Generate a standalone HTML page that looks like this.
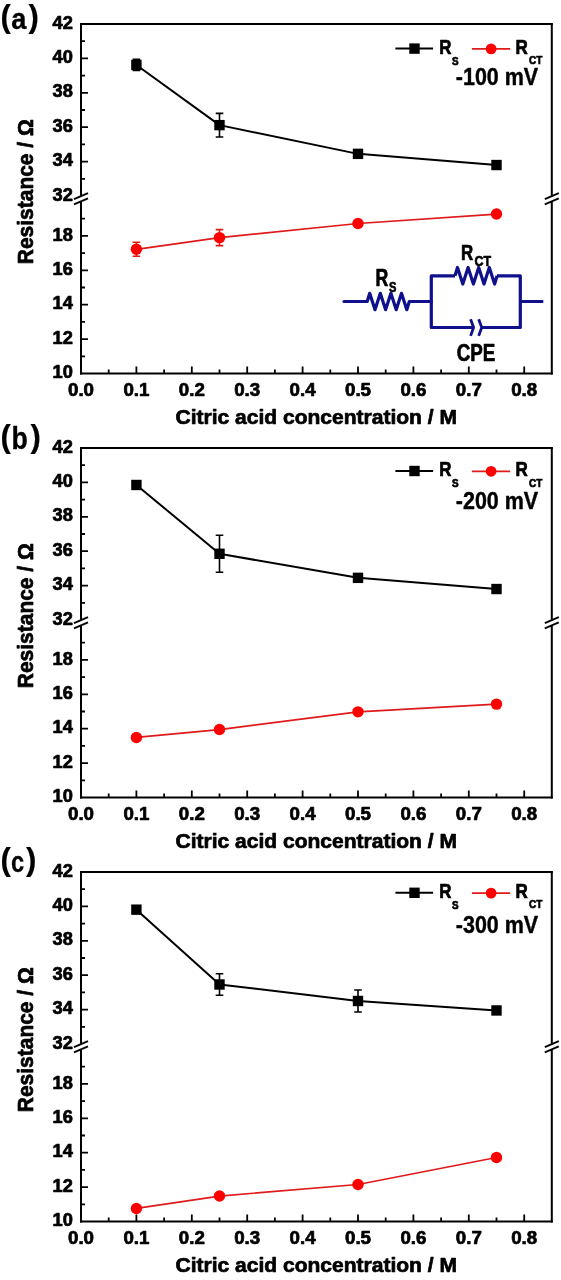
<!DOCTYPE html>
<html><head><meta charset="utf-8"><style>
html,body{margin:0;padding:0;background:#fff;}
svg{display:block;will-change:transform;}
</style></head><body>
<svg width="561" height="1280" viewBox="0 0 561 1280" font-family="Liberation Sans, sans-serif" font-weight="bold" stroke-linejoin="round">
<rect width="561" height="1280" fill="#fff"/>
<g transform="translate(0,0)">
<path d="M81.0 23.0 V195.70 M81.0 201.80 V374.5" stroke="#000" stroke-width="2.0" fill="none"/>
<path d="M551.8 23.0 V195.70 M551.8 201.80 V374.5" stroke="#000" stroke-width="2.0" fill="none"/>
<path d="M80.0 24.0 H552.8 M80.0 373.5 H552.8" stroke="#000" stroke-width="2.0" fill="none"/>
<path d="M74.00 199.20 L88.00 193.20" stroke="#000" stroke-width="1.9" fill="none"/>
<path d="M74.00 204.30 L88.00 198.30" stroke="#000" stroke-width="1.9" fill="none"/>
<path d="M544.80 199.20 L558.80 193.20" stroke="#000" stroke-width="1.9" fill="none"/>
<path d="M544.80 204.30 L558.80 198.30" stroke="#000" stroke-width="1.9" fill="none"/>
<path d="M81.0 178.80 h4 M81.0 161.60 h7 M81.0 144.40 h4 M81.0 127.20 h7 M81.0 110.00 h4 M81.0 92.80 h7 M81.0 75.60 h4 M81.0 58.40 h7 M81.0 41.20 h4 M81.0 356.30 h4 M81.0 339.10 h7 M81.0 321.90 h4 M81.0 304.70 h7 M81.0 287.50 h4 M81.0 270.30 h7 M81.0 253.10 h4 M81.0 235.90 h7 M81.0 218.70 h4 M108.70 373.5 v-4 M136.40 373.5 v-7 M164.10 373.5 v-4 M191.80 373.5 v-7 M219.50 373.5 v-4 M247.20 373.5 v-7 M274.90 373.5 v-4 M302.60 373.5 v-7 M330.30 373.5 v-4 M358.00 373.5 v-7 M385.70 373.5 v-4 M413.40 373.5 v-7 M441.10 373.5 v-4 M468.80 373.5 v-7 M496.50 373.5 v-4 M524.20 373.5 v-7 " stroke="#000" stroke-width="1.8" fill="none"/>
<text x="72.80" y="28.60" font-size="18" text-anchor="end" fill="#000" stroke="#000" stroke-width="0.7" textLength="20.3" lengthAdjust="spacingAndGlyphs" >42</text>
<text x="72.80" y="63.00" font-size="18" text-anchor="end" fill="#000" stroke="#000" stroke-width="0.7" textLength="20.3" lengthAdjust="spacingAndGlyphs" >40</text>
<text x="72.80" y="97.40" font-size="18" text-anchor="end" fill="#000" stroke="#000" stroke-width="0.7" textLength="20.3" lengthAdjust="spacingAndGlyphs" >38</text>
<text x="72.80" y="131.80" font-size="18" text-anchor="end" fill="#000" stroke="#000" stroke-width="0.7" textLength="20.3" lengthAdjust="spacingAndGlyphs" >36</text>
<text x="72.80" y="166.20" font-size="18" text-anchor="end" fill="#000" stroke="#000" stroke-width="0.7" textLength="20.3" lengthAdjust="spacingAndGlyphs" >34</text>
<text x="72.80" y="200.60" font-size="18" text-anchor="end" fill="#000" stroke="#000" stroke-width="0.7" textLength="20.3" lengthAdjust="spacingAndGlyphs" >32</text>
<text x="72.80" y="240.50" font-size="18" text-anchor="end" fill="#000" stroke="#000" stroke-width="0.7" textLength="20.3" lengthAdjust="spacingAndGlyphs" >18</text>
<text x="72.80" y="274.90" font-size="18" text-anchor="end" fill="#000" stroke="#000" stroke-width="0.7" textLength="20.3" lengthAdjust="spacingAndGlyphs" >16</text>
<text x="72.80" y="309.30" font-size="18" text-anchor="end" fill="#000" stroke="#000" stroke-width="0.7" textLength="20.3" lengthAdjust="spacingAndGlyphs" >14</text>
<text x="72.80" y="343.70" font-size="18" text-anchor="end" fill="#000" stroke="#000" stroke-width="0.7" textLength="20.3" lengthAdjust="spacingAndGlyphs" >12</text>
<text x="72.80" y="378.10" font-size="18" text-anchor="end" fill="#000" stroke="#000" stroke-width="0.7" textLength="20.3" lengthAdjust="spacingAndGlyphs" >10</text>
<text x="81.00" y="396.00" font-size="18" text-anchor="middle" fill="#000" stroke="#000" stroke-width="0.7" textLength="26" lengthAdjust="spacingAndGlyphs" >0.0</text>
<text x="136.40" y="396.00" font-size="18" text-anchor="middle" fill="#000" stroke="#000" stroke-width="0.7" textLength="26" lengthAdjust="spacingAndGlyphs" >0.1</text>
<text x="191.80" y="396.00" font-size="18" text-anchor="middle" fill="#000" stroke="#000" stroke-width="0.7" textLength="26" lengthAdjust="spacingAndGlyphs" >0.2</text>
<text x="247.20" y="396.00" font-size="18" text-anchor="middle" fill="#000" stroke="#000" stroke-width="0.7" textLength="26" lengthAdjust="spacingAndGlyphs" >0.3</text>
<text x="302.60" y="396.00" font-size="18" text-anchor="middle" fill="#000" stroke="#000" stroke-width="0.7" textLength="26" lengthAdjust="spacingAndGlyphs" >0.4</text>
<text x="358.00" y="396.00" font-size="18" text-anchor="middle" fill="#000" stroke="#000" stroke-width="0.7" textLength="26" lengthAdjust="spacingAndGlyphs" >0.5</text>
<text x="413.40" y="396.00" font-size="18" text-anchor="middle" fill="#000" stroke="#000" stroke-width="0.7" textLength="26" lengthAdjust="spacingAndGlyphs" >0.6</text>
<text x="468.80" y="396.00" font-size="18" text-anchor="middle" fill="#000" stroke="#000" stroke-width="0.7" textLength="26" lengthAdjust="spacingAndGlyphs" >0.7</text>
<text x="524.20" y="396.00" font-size="18" text-anchor="middle" fill="#000" stroke="#000" stroke-width="0.7" textLength="26" lengthAdjust="spacingAndGlyphs" >0.8</text>
<text x="175.50" y="423.60" font-size="20.5" text-anchor="start" fill="#000" stroke="#000" stroke-width="0.7" textLength="281.5" lengthAdjust="spacingAndGlyphs" >Citric acid concentration / M</text>
<text transform="translate(33.3,264.2) rotate(-90)" x="0" y="0" font-size="22.5" stroke="#000" stroke-width="0.7" text-anchor="start" textLength="145" lengthAdjust="spacingAndGlyphs">Resistance / Ω</text>
<g transform="translate(0,0.0)">
<text x="0.6" y="27.0" font-size="31" stroke="#000" stroke-width="0.2">(</text>
<text x="11.2" y="29.2" font-size="29.5" stroke="#000" stroke-width="0.3" textLength="15.2" lengthAdjust="spacingAndGlyphs">a</text>
<text x="28.6" y="27.0" font-size="31" stroke="#000" stroke-width="0.2">)</text>
</g>
<polyline points="136.40,64.94 219.50,125.14 358.00,153.86 496.50,165.04" stroke="#000" stroke-width="2" fill="none"/>
<path d="M136.40 59.34 V70.54 M132.60 59.34 h7.6 M132.60 70.54 h7.6" stroke="#000" stroke-width="1.6" fill="none"/>
<rect x="131.20" y="59.74" width="10.4" height="10.4" fill="#000"/>
<path d="M219.50 113.34 V136.94 M215.70 113.34 h7.6 M215.70 136.94 h7.6" stroke="#000" stroke-width="1.6" fill="none"/>
<rect x="214.30" y="119.94" width="10.4" height="10.4" fill="#000"/>
<rect x="352.80" y="148.66" width="10.4" height="10.4" fill="#000"/>
<rect x="491.30" y="159.84" width="10.4" height="10.4" fill="#000"/>
<polyline points="136.40,249.32 219.50,237.62 358.00,223.52 496.50,214.06" stroke="#e01a1a" stroke-width="1.7" fill="none"/>
<path d="M136.40 242.32 V256.32 M132.60 242.32 h7.6 M132.60 256.32 h7.6" stroke="#e01a1a" stroke-width="1.6" fill="none"/>
<circle cx="136.40" cy="249.32" r="5.7" fill="#ff0000"/>
<path d="M219.50 229.62 V245.62 M215.70 229.62 h7.6 M215.70 245.62 h7.6" stroke="#e01a1a" stroke-width="1.6" fill="none"/>
<circle cx="219.50" cy="237.62" r="5.7" fill="#ff0000"/>
<circle cx="358.00" cy="223.52" r="5.7" fill="#ff0000"/>
<circle cx="496.50" cy="214.06" r="5.7" fill="#ff0000"/>
<g transform="translate(0,0.0)">
<path d="M395.4 48.6 H433.1" stroke="#000" stroke-width="2"/>
<rect x="409.3" y="43.4" width="10.4" height="10.4" fill="#000"/>
<text x="439.30" y="53.70" font-size="19.5" text-anchor="start" fill="#000" stroke="#000" stroke-width="0.7" textLength="12.2" lengthAdjust="spacingAndGlyphs" >R</text>
<text x="452.00" y="64.70" font-size="11.8" text-anchor="start" fill="#000" stroke="#000" stroke-width="0.7" textLength="6.6" lengthAdjust="spacingAndGlyphs" >S</text>
<path d="M471.9 48.9 H510.2" stroke="#e01a1a" stroke-width="1.7"/>
<circle cx="491.1" cy="48.9" r="5.4" fill="#ff0000"/>
<text x="515.60" y="53.80" font-size="19.5" text-anchor="start" fill="#000" stroke="#000" stroke-width="0.7" textLength="12.3" lengthAdjust="spacingAndGlyphs" >R</text>
<text x="529.10" y="64.20" font-size="11.5" text-anchor="start" fill="#000" stroke="#000" stroke-width="0.7" textLength="13.4" lengthAdjust="spacingAndGlyphs" >CT</text>
</g>
<text x="455.80" y="84.60" font-size="23" text-anchor="start" fill="#000" stroke="#000" stroke-width="0.4" textLength="82.4" lengthAdjust="spacingAndGlyphs" >-100 mV</text>
<path d="M344 301.5 H367.2 L369.70 293.30 L375.00 309.70 L380.30 293.30 L385.60 309.70 L390.90 293.30 L396.20 309.70 L401.50 293.30 L406.80 309.70 L409.30 301.50 H431.3" stroke="#10108c" stroke-width="3.2" fill="none" stroke-linejoin="round" stroke-linecap="round"/>
<path d="M455 275.8 H431.3 V327.5 H473.4 M481.5 327.5 H520.3 V275.8 H497 M520.3 301.5 H543.3" stroke="#10108c" stroke-width="3.2" fill="none" stroke-linecap="butt"/>
<path d="M455 275.8 L457.50 267.50 L462.80 284.10 L468.10 267.50 L473.40 284.10 L478.70 267.50 L484.00 284.10 L489.30 267.50 L494.60 284.10 L497.10 275.80 " stroke="#10108c" stroke-width="3.2" fill="none" stroke-linejoin="round"/>
<path d="M470.6 319.2 L473.6 327.5 L470.6 335.9 M478.7 319.2 L481.7 327.5 L478.7 335.9" stroke="#10108c" stroke-width="2.8" fill="none"/>
<text x="375.40" y="285.80" font-size="23" text-anchor="start" fill="#000" stroke="#000" stroke-width="0.7" textLength="12.8" lengthAdjust="spacingAndGlyphs" >R</text>
<text x="389.00" y="291.60" font-size="14.2" text-anchor="start" fill="#000" stroke="#000" stroke-width="0.7" textLength="7.4" lengthAdjust="spacingAndGlyphs" >S</text>
<text x="460.90" y="259.60" font-size="21.5" text-anchor="start" fill="#000" stroke="#000" stroke-width="0.7" textLength="12.2" lengthAdjust="spacingAndGlyphs" >R</text>
<text x="474.60" y="265.60" font-size="15.2" text-anchor="start" fill="#000" stroke="#000" stroke-width="0.7" textLength="16.6" lengthAdjust="spacingAndGlyphs" >CT</text>
<text x="456.80" y="361.40" font-size="23.2" text-anchor="start" fill="#000" stroke="#000" stroke-width="0.7" textLength="38.6" lengthAdjust="spacingAndGlyphs" >CPE</text>
</g>
<g transform="translate(0,424)">
<path d="M81.0 23.0 V195.70 M81.0 201.80 V374.5" stroke="#000" stroke-width="2.0" fill="none"/>
<path d="M551.8 23.0 V195.70 M551.8 201.80 V374.5" stroke="#000" stroke-width="2.0" fill="none"/>
<path d="M80.0 24.0 H552.8 M80.0 373.5 H552.8" stroke="#000" stroke-width="2.0" fill="none"/>
<path d="M74.00 199.20 L88.00 193.20" stroke="#000" stroke-width="1.9" fill="none"/>
<path d="M74.00 204.30 L88.00 198.30" stroke="#000" stroke-width="1.9" fill="none"/>
<path d="M544.80 199.20 L558.80 193.20" stroke="#000" stroke-width="1.9" fill="none"/>
<path d="M544.80 204.30 L558.80 198.30" stroke="#000" stroke-width="1.9" fill="none"/>
<path d="M81.0 178.80 h4 M81.0 161.60 h7 M81.0 144.40 h4 M81.0 127.20 h7 M81.0 110.00 h4 M81.0 92.80 h7 M81.0 75.60 h4 M81.0 58.40 h7 M81.0 41.20 h4 M81.0 356.30 h4 M81.0 339.10 h7 M81.0 321.90 h4 M81.0 304.70 h7 M81.0 287.50 h4 M81.0 270.30 h7 M81.0 253.10 h4 M81.0 235.90 h7 M81.0 218.70 h4 M108.70 373.5 v-4 M136.40 373.5 v-7 M164.10 373.5 v-4 M191.80 373.5 v-7 M219.50 373.5 v-4 M247.20 373.5 v-7 M274.90 373.5 v-4 M302.60 373.5 v-7 M330.30 373.5 v-4 M358.00 373.5 v-7 M385.70 373.5 v-4 M413.40 373.5 v-7 M441.10 373.5 v-4 M468.80 373.5 v-7 M496.50 373.5 v-4 M524.20 373.5 v-7 " stroke="#000" stroke-width="1.8" fill="none"/>
<text x="72.80" y="28.60" font-size="18" text-anchor="end" fill="#000" stroke="#000" stroke-width="0.7" textLength="20.3" lengthAdjust="spacingAndGlyphs" >42</text>
<text x="72.80" y="63.00" font-size="18" text-anchor="end" fill="#000" stroke="#000" stroke-width="0.7" textLength="20.3" lengthAdjust="spacingAndGlyphs" >40</text>
<text x="72.80" y="97.40" font-size="18" text-anchor="end" fill="#000" stroke="#000" stroke-width="0.7" textLength="20.3" lengthAdjust="spacingAndGlyphs" >38</text>
<text x="72.80" y="131.80" font-size="18" text-anchor="end" fill="#000" stroke="#000" stroke-width="0.7" textLength="20.3" lengthAdjust="spacingAndGlyphs" >36</text>
<text x="72.80" y="166.20" font-size="18" text-anchor="end" fill="#000" stroke="#000" stroke-width="0.7" textLength="20.3" lengthAdjust="spacingAndGlyphs" >34</text>
<text x="72.80" y="200.60" font-size="18" text-anchor="end" fill="#000" stroke="#000" stroke-width="0.7" textLength="20.3" lengthAdjust="spacingAndGlyphs" >32</text>
<text x="72.80" y="240.50" font-size="18" text-anchor="end" fill="#000" stroke="#000" stroke-width="0.7" textLength="20.3" lengthAdjust="spacingAndGlyphs" >18</text>
<text x="72.80" y="274.90" font-size="18" text-anchor="end" fill="#000" stroke="#000" stroke-width="0.7" textLength="20.3" lengthAdjust="spacingAndGlyphs" >16</text>
<text x="72.80" y="309.30" font-size="18" text-anchor="end" fill="#000" stroke="#000" stroke-width="0.7" textLength="20.3" lengthAdjust="spacingAndGlyphs" >14</text>
<text x="72.80" y="343.70" font-size="18" text-anchor="end" fill="#000" stroke="#000" stroke-width="0.7" textLength="20.3" lengthAdjust="spacingAndGlyphs" >12</text>
<text x="72.80" y="378.10" font-size="18" text-anchor="end" fill="#000" stroke="#000" stroke-width="0.7" textLength="20.3" lengthAdjust="spacingAndGlyphs" >10</text>
<text x="81.00" y="396.00" font-size="18" text-anchor="middle" fill="#000" stroke="#000" stroke-width="0.7" textLength="26" lengthAdjust="spacingAndGlyphs" >0.0</text>
<text x="136.40" y="396.00" font-size="18" text-anchor="middle" fill="#000" stroke="#000" stroke-width="0.7" textLength="26" lengthAdjust="spacingAndGlyphs" >0.1</text>
<text x="191.80" y="396.00" font-size="18" text-anchor="middle" fill="#000" stroke="#000" stroke-width="0.7" textLength="26" lengthAdjust="spacingAndGlyphs" >0.2</text>
<text x="247.20" y="396.00" font-size="18" text-anchor="middle" fill="#000" stroke="#000" stroke-width="0.7" textLength="26" lengthAdjust="spacingAndGlyphs" >0.3</text>
<text x="302.60" y="396.00" font-size="18" text-anchor="middle" fill="#000" stroke="#000" stroke-width="0.7" textLength="26" lengthAdjust="spacingAndGlyphs" >0.4</text>
<text x="358.00" y="396.00" font-size="18" text-anchor="middle" fill="#000" stroke="#000" stroke-width="0.7" textLength="26" lengthAdjust="spacingAndGlyphs" >0.5</text>
<text x="413.40" y="396.00" font-size="18" text-anchor="middle" fill="#000" stroke="#000" stroke-width="0.7" textLength="26" lengthAdjust="spacingAndGlyphs" >0.6</text>
<text x="468.80" y="396.00" font-size="18" text-anchor="middle" fill="#000" stroke="#000" stroke-width="0.7" textLength="26" lengthAdjust="spacingAndGlyphs" >0.7</text>
<text x="524.20" y="396.00" font-size="18" text-anchor="middle" fill="#000" stroke="#000" stroke-width="0.7" textLength="26" lengthAdjust="spacingAndGlyphs" >0.8</text>
<text x="175.50" y="423.60" font-size="20.5" text-anchor="start" fill="#000" stroke="#000" stroke-width="0.7" textLength="281.5" lengthAdjust="spacingAndGlyphs" >Citric acid concentration / M</text>
<text transform="translate(33.3,264.2) rotate(-90)" x="0" y="0" font-size="22.5" stroke="#000" stroke-width="0.7" text-anchor="start" textLength="145" lengthAdjust="spacingAndGlyphs">Resistance / Ω</text>
<g transform="translate(0,-4.0)">
<text x="0.6" y="27.0" font-size="31" stroke="#000" stroke-width="0.2">(</text>
<text x="11.4" y="29.2" font-size="31" stroke="#000" stroke-width="0.3" textLength="16.3" lengthAdjust="spacingAndGlyphs">b</text>
<text x="30.4" y="27.0" font-size="31" stroke="#000" stroke-width="0.2">)</text>
</g>
<polyline points="136.40,60.98 219.50,129.78 358.00,153.86 496.50,165.04" stroke="#000" stroke-width="2" fill="none"/>
<rect x="131.20" y="55.78" width="10.4" height="10.4" fill="#000"/>
<path d="M219.50 111.28 V148.28 M215.70 111.28 h7.6 M215.70 148.28 h7.6" stroke="#000" stroke-width="1.6" fill="none"/>
<rect x="214.30" y="124.58" width="10.4" height="10.4" fill="#000"/>
<rect x="352.80" y="148.66" width="10.4" height="10.4" fill="#000"/>
<rect x="491.30" y="159.84" width="10.4" height="10.4" fill="#000"/>
<polyline points="136.40,313.47 219.50,305.56 358.00,287.84 496.50,280.10" stroke="#e01a1a" stroke-width="1.7" fill="none"/>
<circle cx="136.40" cy="313.47" r="5.7" fill="#ff0000"/>
<circle cx="219.50" cy="305.56" r="5.7" fill="#ff0000"/>
<circle cx="358.00" cy="287.84" r="5.7" fill="#ff0000"/>
<circle cx="496.50" cy="280.10" r="5.7" fill="#ff0000"/>
<g transform="translate(0,-1.6)">
<path d="M395.4 48.6 H433.1" stroke="#000" stroke-width="2"/>
<rect x="409.3" y="43.4" width="10.4" height="10.4" fill="#000"/>
<text x="439.30" y="53.70" font-size="19.5" text-anchor="start" fill="#000" stroke="#000" stroke-width="0.7" textLength="12.2" lengthAdjust="spacingAndGlyphs" >R</text>
<text x="452.00" y="64.70" font-size="11.8" text-anchor="start" fill="#000" stroke="#000" stroke-width="0.7" textLength="6.6" lengthAdjust="spacingAndGlyphs" >S</text>
<path d="M471.9 48.9 H510.2" stroke="#e01a1a" stroke-width="1.7"/>
<circle cx="491.1" cy="48.9" r="5.4" fill="#ff0000"/>
<text x="515.60" y="53.80" font-size="19.5" text-anchor="start" fill="#000" stroke="#000" stroke-width="0.7" textLength="12.3" lengthAdjust="spacingAndGlyphs" >R</text>
<text x="529.10" y="64.20" font-size="11.5" text-anchor="start" fill="#000" stroke="#000" stroke-width="0.7" textLength="13.4" lengthAdjust="spacingAndGlyphs" >CT</text>
</g>
<text x="455.80" y="84.60" font-size="23" text-anchor="start" fill="#000" stroke="#000" stroke-width="0.4" textLength="82.4" lengthAdjust="spacingAndGlyphs" >-200 mV</text>
</g>
<g transform="translate(0,848)">
<path d="M81.0 23.0 V195.70 M81.0 201.80 V374.5" stroke="#000" stroke-width="2.0" fill="none"/>
<path d="M551.8 23.0 V195.70 M551.8 201.80 V374.5" stroke="#000" stroke-width="2.0" fill="none"/>
<path d="M80.0 24.0 H552.8 M80.0 373.5 H552.8" stroke="#000" stroke-width="2.0" fill="none"/>
<path d="M74.00 199.20 L88.00 193.20" stroke="#000" stroke-width="1.9" fill="none"/>
<path d="M74.00 204.30 L88.00 198.30" stroke="#000" stroke-width="1.9" fill="none"/>
<path d="M544.80 199.20 L558.80 193.20" stroke="#000" stroke-width="1.9" fill="none"/>
<path d="M544.80 204.30 L558.80 198.30" stroke="#000" stroke-width="1.9" fill="none"/>
<path d="M81.0 178.80 h4 M81.0 161.60 h7 M81.0 144.40 h4 M81.0 127.20 h7 M81.0 110.00 h4 M81.0 92.80 h7 M81.0 75.60 h4 M81.0 58.40 h7 M81.0 41.20 h4 M81.0 356.30 h4 M81.0 339.10 h7 M81.0 321.90 h4 M81.0 304.70 h7 M81.0 287.50 h4 M81.0 270.30 h7 M81.0 253.10 h4 M81.0 235.90 h7 M81.0 218.70 h4 M108.70 373.5 v-4 M136.40 373.5 v-7 M164.10 373.5 v-4 M191.80 373.5 v-7 M219.50 373.5 v-4 M247.20 373.5 v-7 M274.90 373.5 v-4 M302.60 373.5 v-7 M330.30 373.5 v-4 M358.00 373.5 v-7 M385.70 373.5 v-4 M413.40 373.5 v-7 M441.10 373.5 v-4 M468.80 373.5 v-7 M496.50 373.5 v-4 M524.20 373.5 v-7 " stroke="#000" stroke-width="1.8" fill="none"/>
<text x="72.80" y="28.60" font-size="18" text-anchor="end" fill="#000" stroke="#000" stroke-width="0.7" textLength="20.3" lengthAdjust="spacingAndGlyphs" >42</text>
<text x="72.80" y="63.00" font-size="18" text-anchor="end" fill="#000" stroke="#000" stroke-width="0.7" textLength="20.3" lengthAdjust="spacingAndGlyphs" >40</text>
<text x="72.80" y="97.40" font-size="18" text-anchor="end" fill="#000" stroke="#000" stroke-width="0.7" textLength="20.3" lengthAdjust="spacingAndGlyphs" >38</text>
<text x="72.80" y="131.80" font-size="18" text-anchor="end" fill="#000" stroke="#000" stroke-width="0.7" textLength="20.3" lengthAdjust="spacingAndGlyphs" >36</text>
<text x="72.80" y="166.20" font-size="18" text-anchor="end" fill="#000" stroke="#000" stroke-width="0.7" textLength="20.3" lengthAdjust="spacingAndGlyphs" >34</text>
<text x="72.80" y="200.60" font-size="18" text-anchor="end" fill="#000" stroke="#000" stroke-width="0.7" textLength="20.3" lengthAdjust="spacingAndGlyphs" >32</text>
<text x="72.80" y="240.50" font-size="18" text-anchor="end" fill="#000" stroke="#000" stroke-width="0.7" textLength="20.3" lengthAdjust="spacingAndGlyphs" >18</text>
<text x="72.80" y="274.90" font-size="18" text-anchor="end" fill="#000" stroke="#000" stroke-width="0.7" textLength="20.3" lengthAdjust="spacingAndGlyphs" >16</text>
<text x="72.80" y="309.30" font-size="18" text-anchor="end" fill="#000" stroke="#000" stroke-width="0.7" textLength="20.3" lengthAdjust="spacingAndGlyphs" >14</text>
<text x="72.80" y="343.70" font-size="18" text-anchor="end" fill="#000" stroke="#000" stroke-width="0.7" textLength="20.3" lengthAdjust="spacingAndGlyphs" >12</text>
<text x="72.80" y="378.10" font-size="18" text-anchor="end" fill="#000" stroke="#000" stroke-width="0.7" textLength="20.3" lengthAdjust="spacingAndGlyphs" >10</text>
<text x="81.00" y="396.00" font-size="18" text-anchor="middle" fill="#000" stroke="#000" stroke-width="0.7" textLength="26" lengthAdjust="spacingAndGlyphs" >0.0</text>
<text x="136.40" y="396.00" font-size="18" text-anchor="middle" fill="#000" stroke="#000" stroke-width="0.7" textLength="26" lengthAdjust="spacingAndGlyphs" >0.1</text>
<text x="191.80" y="396.00" font-size="18" text-anchor="middle" fill="#000" stroke="#000" stroke-width="0.7" textLength="26" lengthAdjust="spacingAndGlyphs" >0.2</text>
<text x="247.20" y="396.00" font-size="18" text-anchor="middle" fill="#000" stroke="#000" stroke-width="0.7" textLength="26" lengthAdjust="spacingAndGlyphs" >0.3</text>
<text x="302.60" y="396.00" font-size="18" text-anchor="middle" fill="#000" stroke="#000" stroke-width="0.7" textLength="26" lengthAdjust="spacingAndGlyphs" >0.4</text>
<text x="358.00" y="396.00" font-size="18" text-anchor="middle" fill="#000" stroke="#000" stroke-width="0.7" textLength="26" lengthAdjust="spacingAndGlyphs" >0.5</text>
<text x="413.40" y="396.00" font-size="18" text-anchor="middle" fill="#000" stroke="#000" stroke-width="0.7" textLength="26" lengthAdjust="spacingAndGlyphs" >0.6</text>
<text x="468.80" y="396.00" font-size="18" text-anchor="middle" fill="#000" stroke="#000" stroke-width="0.7" textLength="26" lengthAdjust="spacingAndGlyphs" >0.7</text>
<text x="524.20" y="396.00" font-size="18" text-anchor="middle" fill="#000" stroke="#000" stroke-width="0.7" textLength="26" lengthAdjust="spacingAndGlyphs" >0.8</text>
<text x="175.50" y="423.60" font-size="20.5" text-anchor="start" fill="#000" stroke="#000" stroke-width="0.7" textLength="281.5" lengthAdjust="spacingAndGlyphs" >Citric acid concentration / M</text>
<text transform="translate(33.3,264.2) rotate(-90)" x="0" y="0" font-size="22.5" stroke="#000" stroke-width="0.7" text-anchor="start" textLength="145" lengthAdjust="spacingAndGlyphs">Resistance / Ω</text>
<g transform="translate(0,-4.9)">
<text x="0.6" y="27.0" font-size="31" stroke="#000" stroke-width="0.2">(</text>
<text x="11.0" y="29.2" font-size="29.5" stroke="#000" stroke-width="0.3" textLength="13.2" lengthAdjust="spacingAndGlyphs">c</text>
<text x="25.9" y="27.0" font-size="31" stroke="#000" stroke-width="0.2">)</text>
</g>
<polyline points="136.40,61.67 219.50,136.49 358.00,153.00 496.50,162.46" stroke="#000" stroke-width="2" fill="none"/>
<rect x="131.20" y="56.47" width="10.4" height="10.4" fill="#000"/>
<path d="M219.50 125.79 V147.19 M215.70 125.79 h7.6 M215.70 147.19 h7.6" stroke="#000" stroke-width="1.6" fill="none"/>
<rect x="214.30" y="131.29" width="10.4" height="10.4" fill="#000"/>
<path d="M358.00 142.00 V164.00 M354.20 142.00 h7.6 M354.20 164.00 h7.6" stroke="#000" stroke-width="1.6" fill="none"/>
<rect x="352.80" y="147.80" width="10.4" height="10.4" fill="#000"/>
<rect x="491.30" y="157.26" width="10.4" height="10.4" fill="#000"/>
<polyline points="136.40,360.43 219.50,348.04 358.00,336.52 496.50,309.52" stroke="#e01a1a" stroke-width="1.7" fill="none"/>
<circle cx="136.40" cy="360.43" r="5.7" fill="#ff0000"/>
<circle cx="219.50" cy="348.04" r="5.7" fill="#ff0000"/>
<circle cx="358.00" cy="336.52" r="5.7" fill="#ff0000"/>
<circle cx="496.50" cy="309.52" r="5.7" fill="#ff0000"/>
<g transform="translate(0,-3.8)">
<path d="M395.4 48.6 H433.1" stroke="#000" stroke-width="2"/>
<rect x="409.3" y="43.4" width="10.4" height="10.4" fill="#000"/>
<text x="439.30" y="53.70" font-size="19.5" text-anchor="start" fill="#000" stroke="#000" stroke-width="0.7" textLength="12.2" lengthAdjust="spacingAndGlyphs" >R</text>
<text x="452.00" y="64.70" font-size="11.8" text-anchor="start" fill="#000" stroke="#000" stroke-width="0.7" textLength="6.6" lengthAdjust="spacingAndGlyphs" >S</text>
<path d="M471.9 48.9 H510.2" stroke="#e01a1a" stroke-width="1.7"/>
<circle cx="491.1" cy="48.9" r="5.4" fill="#ff0000"/>
<text x="515.60" y="53.80" font-size="19.5" text-anchor="start" fill="#000" stroke="#000" stroke-width="0.7" textLength="12.3" lengthAdjust="spacingAndGlyphs" >R</text>
<text x="529.10" y="64.20" font-size="11.5" text-anchor="start" fill="#000" stroke="#000" stroke-width="0.7" textLength="13.4" lengthAdjust="spacingAndGlyphs" >CT</text>
</g>
<text x="455.80" y="84.60" font-size="23" text-anchor="start" fill="#000" stroke="#000" stroke-width="0.4" textLength="82.4" lengthAdjust="spacingAndGlyphs" >-300 mV</text>
</g>
</svg>
</body></html>
